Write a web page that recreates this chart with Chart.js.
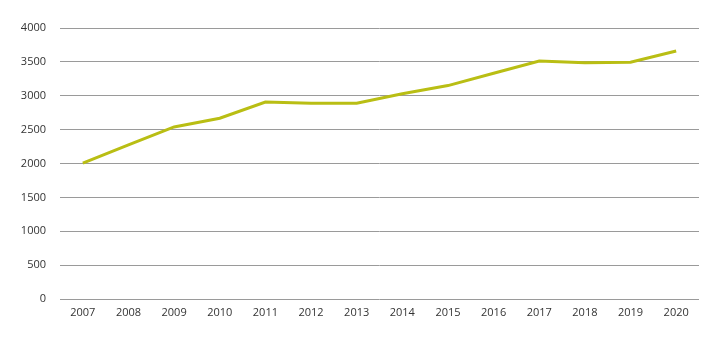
<!DOCTYPE html>
<html>
<head>
<meta charset="utf-8">
<script src="https://cdn.jsdelivr.net/npm/chart.js@4"></script>
<style>
html,body{margin:0;padding:0;background:#fff;}
#wrap{width:719px;height:341px;position:relative;}
</style>
</head>
<body>
<div id="wrap"><canvas id="c" width="719" height="341"></canvas></div>
<script>
const categories = ['2007','2008','2009','2010','2011','2012','2013','2014','2015','2016','2017','2018','2019','2020'];
const values = [2005, 2275, 2540, 2668, 2908, 2888, 2888, 3030, 3150, 3332, 3513, 3486, 3494, 3660];
const yTicks = [0, 500, 1000, 1500, 2000, 2500, 3000, 3500, 4000];

new Chart(document.getElementById('c'), {
  type: 'line',
  data: {
    labels: categories,
    datasets: [{
      data: values,
      borderColor: '#b9be14',
      borderWidth: 3,
      pointRadius: 0,
      pointHoverRadius: 0,
      tension: 0,
      fill: false
    }]
  },
  options: {
    responsive: false,
    animation: false,
    devicePixelRatio: 1,
    plugins: { legend: { display: false }, tooltip: { enabled: false } },
    layout: { padding: { top: 28, right: 20, left: 0, bottom: 0 } },
    scales: {
      x: {
        offset: true,
        grid: { display: false, drawTicks: false },
        border: { display: false },
        ticks: { color: '#333', font: { family: 'Open Sans', size: 11 }, padding: 7, maxRotation: 0, autoSkip: false },
        afterFit: s => { s.height = 42; }
      },
      y: {
        min: 0, max: 4000,
        afterBuildTicks: s => { s.ticks = yTicks.map(v => ({ value: v })); },
        grid: { color: '#9a9a9a', lineWidth: 1, drawTicks: false },
        border: { display: false },
        ticks: { color: '#333', font: { family: 'Open Sans', size: 11 }, padding: 14, callback: v => String(v) },
        afterFit: s => { s.width = 60; }
      }
    }
  }
});
</script>
</body>
</html>
